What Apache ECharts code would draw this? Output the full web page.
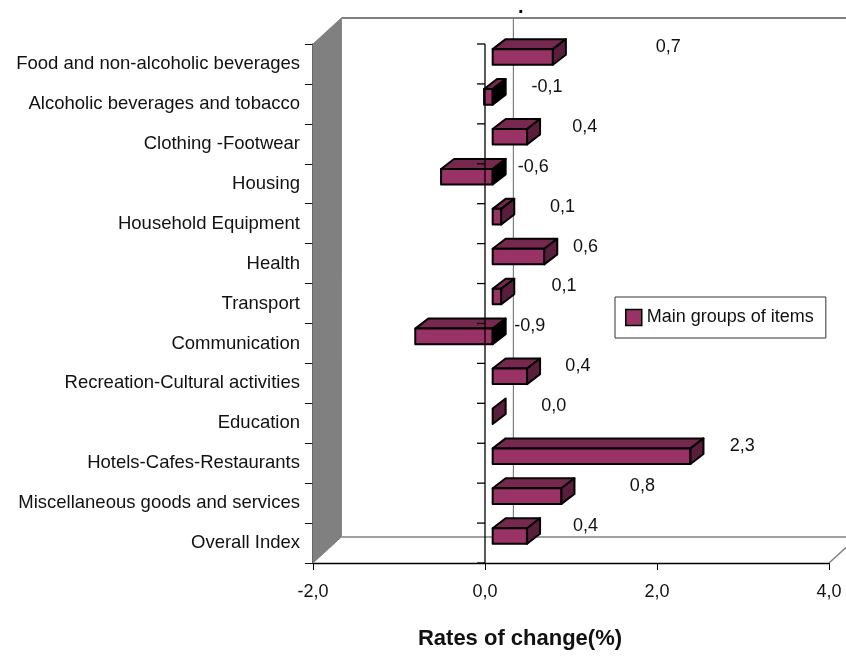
<!DOCTYPE html>
<html>
<head>
<meta charset="utf-8">
<script src="https://cdn.jsdelivr.net/npm/echarts@6/dist/echarts.min.js"></script>
<style>
  html, body { margin: 0; padding: 0; background: #fff; }
  #chart { width: 846px; height: 657px; }
</style>
</head>
<body>
<div id="chart"></div>
<script>
const categories = [
    'Food and non-alcoholic beverages',
    'Alcoholic beverages and tobacco',
    'Clothing -Footwear',
    'Housing',
    'Household Equipment',
    'Health',
    'Transport',
    'Communication',
    'Recreation-Cultural activities',
    'Education',
    'Hotels-Cafes-Restaurants',
    'Miscellaneous goods and services',
    'Overall Index'
];
const values = [0.7, -0.1, 0.4, -0.6, 0.1, 0.6, 0.1, -0.9, 0.4, 0.0, 2.3, 0.8, 0.4];
// where each data label sits along the value axis (labels were moved by hand in the original)
const labelX = [2.13, 0.72, 1.16, 0.56, 0.90, 1.17, 0.92, 0.52, 1.08, 0.80, 2.99, 1.83, 1.17];
const xMin = -2, xMax = 4, xStep = 2;
const seriesName = 'Main groups of items';

const FONT = "'Liberation Sans', Arial, sans-serif";
const DX = 28.4, DY = -26;       // depth of the 3d box
const fmt = (v) => Number(v).toFixed(1).replace('.', ',');

// walls, floor and back grid line
function renderWalls(params, api) {
    const r = params.coordSys;
    const x0 = api.coord([0, 0])[0];
    const gray = '#808080';
    return {
        type: 'group',
        children: [
            { type: 'polygon', shape: { points: [[r.x, r.y], [r.x + DX, r.y + DY], [r.x + DX, r.y + r.height + DY], [r.x, r.y + r.height]] },
              style: { fill: gray, stroke: gray, lineWidth: 1 } },
            { type: 'line', shape: { x1: r.x + DX, y1: r.y + DY, x2: r.x + r.width + DX + 30, y2: r.y + DY }, style: { stroke: gray, lineWidth: 2 } },
            { type: 'line', shape: { x1: r.x + DX, y1: r.y + r.height + DY, x2: r.x + r.width + DX + 30, y2: r.y + r.height + DY }, style: { stroke: gray, lineWidth: 1.5 } },
            { type: 'line', shape: { x1: r.x + r.width, y1: r.y + r.height, x2: r.x + r.width + DX, y2: r.y + r.height + DY }, style: { stroke: gray, lineWidth: 1.5 } },
            { type: 'line', shape: { x1: x0 + DX, y1: r.y + DY, x2: x0 + DX, y2: r.y + r.height + DY }, style: { stroke: gray, lineWidth: 1.2 } }
        ]
    };
}

function renderBar(params, api) {
    const idx = api.value(1);
    const v = api.value(0);
    const p0 = api.coord([0, idx]);
    const p1 = api.coord([v, idx]);
    const band = api.size([0, 1])[1];
    const h = band * 0.39;
    const ox = DX * 0.27, oy = DY * 0.27;
    const bx = 13, by = -10;
    const xl = Math.min(p0[0], p1[0]) + ox;
    const xr = Math.max(p0[0], p1[0]) + ox;
    const yt = p0[1] + oy - h / 2;
    const yb = yt + h;
    const edge = { stroke: '#000', lineWidth: 2, lineJoin: 'round' };
    const kids = [];
    if (xr - xl > 0.5) {
        kids.push({ type: 'polygon', shape: { points: [[xl, yt], [xl + bx, yt + by], [xr + bx, yt + by], [xr, yt]] },
                    style: Object.assign({ fill: '#76284f' }, edge) });
        kids.push({ type: 'rect', shape: { x: xl, y: yt, width: xr - xl, height: h },
                    style: Object.assign({ fill: '#993366' }, edge) });
    }
    kids.push({ type: 'polygon', shape: { points: [[xr, yt], [xr + bx, yt + by], [xr + bx, yb + by], [xr, yb]] },
                style: Object.assign({ fill: v < 0 ? '#000' : '#5a1d3c' }, edge) });
    return { type: 'group', children: kids };
}

// zero line on the front plane, drawn over the bars
function renderZero(params, api) {
    const r = params.coordSys;
    const x0 = api.coord([0, 0])[0];
    const band = api.size([0, 1])[1];
    const kids = [{ type: 'line', shape: { x1: x0, y1: r.y, x2: x0, y2: r.y + r.height }, style: { stroke: '#000', lineWidth: 1.3 } }];
    for (let k = 0; k <= categories.length; k++) {
        const y = r.y + k * band;
        kids.push({ type: 'line', shape: { x1: x0 - 8, y1: y, x2: x0, y2: y }, style: { stroke: '#000', lineWidth: 1.3 } });
    }
    return { type: 'group', children: kids };
}

function renderLabel(params, api) {
    const p = api.coord([api.value(0), api.value(1)]);
    return {
        type: 'text',
        style: {
            text: fmt(api.value(2)), x: p[0], y: p[1] - 17,
            align: 'center', verticalAlign: 'middle',
            fontSize: 18, fontFamily: FONT, fill: '#111'
        }
    };
}

const chart = echarts.init(document.getElementById('chart'));
chart.setOption({
    backgroundColor: '#fff',
    animation: false,
    title: { text: '.', left: 518, top: -3, padding: 0, textStyle: { fontSize: 20, fontWeight: 'bold', color: '#000' } },
    legend: {
        data: [seriesName],
        left: 615, top: 297,
        padding: [8, 12, 8, 10],
        borderColor: '#333', borderWidth: 1,
        backgroundColor: '#fff',
        icon: 'rect', itemWidth: 16, itemHeight: 16,
        itemStyle: { color: '#993366', borderColor: '#000', borderWidth: 1.5 },
        textStyle: { fontSize: 18, fontFamily: FONT, color: '#111', lineHeight: 25 }
    },
    grid: { left: 313, right: 17, top: 44, bottom: 94, containLabel: false, outerBoundsMode: 'none' },
    xAxis: {
        type: 'value', min: xMin, max: xMax, interval: xStep,
        axisLine: { show: true, onZero: false, lineStyle: { color: '#000', width: 1.3 } },
        axisTick: { show: true, length: 7, lineStyle: { color: '#000' } },
        splitLine: { show: false },
        axisLabel: { formatter: fmt, fontSize: 18, fontFamily: FONT, color: '#111', margin: 20 },
        name: 'Rates of change(%)', nameLocation: 'middle', nameGap: 65,
        nameTextStyle: { fontSize: 22, fontWeight: 'bold', fontFamily: FONT, color: '#111', padding: [0, 102, 0, 0] }
    },
    yAxis: {
        type: 'category', data: categories, inverse: true,
        axisLine: { show: true, onZero: false, lineStyle: { color: '#111', width: 1.5 } },
        axisTick: { show: true, length: 8, lineStyle: { color: '#111' } },
        axisLabel: { fontSize: 18.5, fontFamily: FONT, color: '#111', margin: 13 }
    },
    series: [
        { type: 'custom', name: 'walls', renderItem: renderWalls, data: [[0, 0]], clip: false, silent: true, z: 1 },
        {
            type: 'custom', name: seriesName, renderItem: renderBar, clip: false, z: 2,
            itemStyle: { color: '#993366' },
            encode: { x: 0, y: 1 },
            data: values.map((v, i) => [v, i])
        },
        { type: 'custom', name: 'zero', renderItem: renderZero, data: [[0, 0]], clip: false, silent: true, z: 3 },
        {
            type: 'custom', name: 'labels', renderItem: renderLabel, clip: false, silent: true, z: 4,
            encode: { x: 0, y: 1 },
            data: labelX.map((x, i) => [x, i, values[i]])
        }
    ]
});
</script>
</body>
</html>
